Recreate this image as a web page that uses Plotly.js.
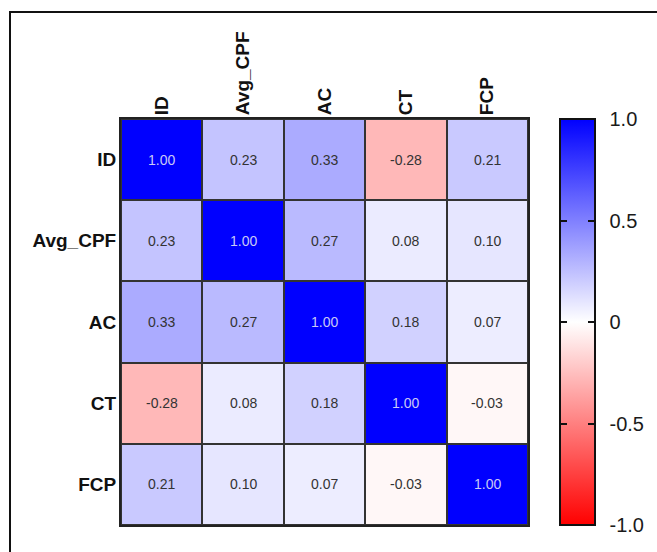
<!DOCTYPE html>
<html>
<head>
<meta charset="utf-8">
<script src="https://cdn.plot.ly/plotly-3.0.1.min.js"></script>
<style>
  html, body { margin: 0; padding: 0; background: #fff; }
  #wrap { position: relative; width: 657px; height: 552px; overflow: hidden; }
  #chart { position: absolute; left: 0; top: 0; width: 657px; height: 552px; }
  #frame { position: absolute; left: 9px; top: 11px; width: 700px; height: 600px;
           border-left: 2px solid #111; border-top: 2px solid #111; pointer-events: none; }
  .cbtick { position: absolute; height: 2px; width: 7px; background: #111; pointer-events: none; }
</style>
</head>
<body>
<div id="wrap">
  <div id="chart"></div>
  <div id="frame"></div>
</div>
<script>
const variables = ["ID", "Avg_CPF", "AC", "CT", "FCP"];
const rowID     = [1.00, 0.23, 0.33, -0.28, 0.21];
const rowAvgCPF = [0.23, 1.00, 0.27, 0.08, 0.10];
const rowAC     = [0.33, 0.27, 1.00, 0.18, 0.07];
const rowCT     = [-0.28, 0.08, 0.18, 1.00, -0.03];
const rowFCP    = [0.21, 0.10, 0.07, -0.03, 1.00];
const colorTickVals = [-1, -0.5, 0, 0.5, 1];
const colorTickText = ["-1.0", "-0.5", "0", "0.5", "1.0"];

const z = [rowID, rowAvgCPF, rowAC, rowCT, rowFCP];
const FONT = '"Liberation Sans", Arial, Helvetica, sans-serif';

const plotL = 121, plotR = 528, plotT = 119, plotB = 525;
const W = 657, H = 552;
const plotW = plotR - plotL;
const cbLeftPx = 560;
const cbX = (cbLeftPx - plotL) / plotW;
const cbThick = 35;

const annotations = [];
for (let i = 0; i < variables.length; i++) {
  for (let j = 0; j < variables.length; j++) {
    const v = z[i][j];
    annotations.push({
      x: variables[j], y: variables[i], xref: 'x', yref: 'y',
      text: v.toFixed(2), showarrow: false,
      font: { family: FONT, size: 14, color: v > 0.9 ? '#c9c9f5' : '#333333' }
    });
  }
}

const trace = {
  type: 'heatmap',
  x: variables, y: variables, z: z,
  zmin: -1, zmax: 1,
  colorscale: [[0, '#ff0000'], [0.5, '#ffffff'], [1, '#0000ff']],
  xgap: 2, ygap: 2,
  hoverinfo: 'none',
  colorbar: {
    x: cbX, xanchor: 'left', xpad: 0,
    y: 0, yanchor: 'bottom', ypad: 0, len: 1, lenmode: 'fraction',
    thickness: cbThick, thicknessmode: 'pixels',
    outlinewidth: 2, outlinecolor: '#111',
    tickmode: 'array', tickvals: colorTickVals, ticktext: colorTickText,
    ticks: 'outside', ticklen: 10, tickwidth: 1, tickcolor: 'rgba(0,0,0,0)',
    tickfont: { family: FONT, size: 20, color: '#1a1a1a' }
  }
};

const layout = {
  width: W, height: H,
  margin: { l: plotL, r: W - plotR, t: plotT, b: H - plotB, pad: 0 },
  paper_bgcolor: '#ffffff',
  plot_bgcolor: '#333333',
  showlegend: false,
  xaxis: {
    side: 'top', tickangle: -90, type: 'category',
    tickfont: { family: FONT, size: 19, color: '#111', weight: 'bold' },
    showline: true, mirror: true, linecolor: '#222', linewidth: 2,
    showgrid: false, zeroline: false, ticks: '', ticklabelstandoff: -2,
    fixedrange: true
  },
  yaxis: {
    autorange: 'reversed', type: 'category',
    tickfont: { family: FONT, size: 19, color: '#111', weight: 'bold' },
    showline: true, mirror: true, linecolor: '#222', linewidth: 2,
    showgrid: false, zeroline: false, ticks: '', ticklabelstandoff: -1,
    fixedrange: true
  },
  annotations: annotations
};

Plotly.newPlot('chart', [trace], layout, { displayModeBar: false, staticPlot: true }).then(() => {
  // inner tick marks on both edges of the colour bar (colour bar sits above shapes)
  const wrap = document.getElementById('wrap');
  colorTickVals.forEach(v => {
    if (Math.abs(v) >= 1) return;
    const ypx = plotB - (v + 1) / 2 * (plotB - plotT);
    [cbLeftPx, cbLeftPx + cbThick - 7].forEach(xpx => {
      const d = document.createElement('div');
      d.className = 'cbtick';
      d.style.left = xpx + 'px';
      d.style.top = (ypx - 1) + 'px';
      wrap.appendChild(d);
    });
  });
});
</script>
</body>
</html>
